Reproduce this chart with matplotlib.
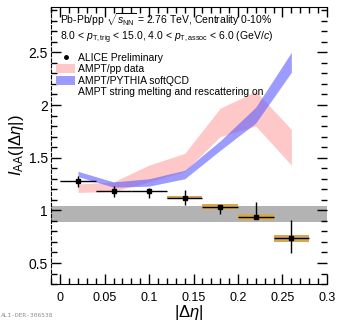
import matplotlib
matplotlib.use("Agg")
import matplotlib.pyplot as plt
from matplotlib.patches import Patch
from matplotlib.lines import Line2D
from matplotlib.ticker import MultipleLocator
import numpy as np

plt.rcParams['font.family'] = ['Liberation Sans', 'DejaVu Sans']
plt.rcParams['mathtext.fontset'] = 'custom'
plt.rcParams['mathtext.rm'] = 'Liberation Sans'
plt.rcParams['mathtext.it'] = 'Liberation Sans:italic'

# ALICE preliminary I_AA vs |delta eta|
deta = [0.02, 0.06, 0.10, 0.14, 0.18, 0.22, 0.26]
bin_half = [0.02, 0.02, 0.02, 0.02, 0.02, 0.02, 0.02]
iaa = [1.275, 1.18, 1.18, 1.12, 1.035, 0.937, 0.733]
stat_lo = [0.05, 0.05, 0.06, 0.07, 0.07, 0.02, 0.14]
stat_hi = [0.05, 0.05, 0.03, 0.07, 0.02, 0.14, 0.18]
sys_err = [0.002, 0.004, 0.006, 0.016, 0.025, 0.025, 0.032]

# AMPT with pp data as reference
ampt_pp_lo = [1.17, 1.18, 1.27, 1.37, 1.70, 1.80, 1.43]
ampt_pp_hi = [1.25, 1.27, 1.43, 1.54, 1.97, 2.13, 1.77]

# AMPT with PYTHIA softQCD as reference
ampt_py_lo = [1.32, 1.22, 1.23, 1.30, 1.57, 1.83, 2.31]
ampt_py_hi = [1.37, 1.27, 1.30, 1.38, 1.66, 1.98, 2.50]

# normalisation uncertainty band around unity
norm_band = [0.89, 1.04]

fig = plt.figure(figsize=(3.37, 3.21), dpi=100)
ax = fig.add_axes([0.151, 0.115, 0.819, 0.863])

ax.axhspan(norm_band[0], norm_band[1], color='#b3b3b3', lw=0, zorder=1)

ax.fill_between(deta, ampt_pp_lo, ampt_pp_hi, color='#ffc8c8', lw=0, zorder=2)
ax.fill_between(deta, ampt_py_lo, ampt_py_hi, color='#5a5aff', alpha=0.6, lw=0, zorder=3)

y = np.array(iaa)
s = np.array(sys_err)
ax.bar(deta, 2 * s, bottom=y - s, width=0.04, color='#d4a752', lw=0, zorder=4)
ax.errorbar(deta, iaa, xerr=bin_half, yerr=[stat_lo, stat_hi], fmt='s', ms=3,
            color='black', lw=1, capsize=0, zorder=5)

ax.set_xlim(-0.0105, 0.3)
ax.set_ylim(0.3, 2.93)
ax.xaxis.set_major_locator(MultipleLocator(0.05))
ax.xaxis.set_minor_locator(MultipleLocator(0.01))
ax.yaxis.set_major_locator(MultipleLocator(0.5))
ax.yaxis.set_minor_locator(MultipleLocator(0.1))
ax.set_xticks([0, 0.05, 0.1, 0.15, 0.2, 0.25, 0.3])
ax.set_xticklabels(['0', '0.05', '0.1', '0.15', '0.2', '0.25', '0.3'])
ax.set_yticks([0.5, 1, 1.5, 2, 2.5])
ax.set_yticklabels(['0.5', '1', '1.5', '2', '2.5'])
ax.tick_params(which='both', direction='in', top=True, right=True)
ax.tick_params(which='major', length=7, width=1)
ax.tick_params(which='minor', length=4, width=1)
ax.tick_params(axis='y', labelsize=10, pad=2)
ax.tick_params(axis='x', labelsize=9, pad=6)
ax.spines['right'].set_visible(False)
ax.spines['left'].set_linestyle((0, (3, 2)))

ax.set_xlabel(r'$|\Delta\eta|$', fontsize=12, labelpad=-1)
ax.set_ylabel(r'$I_{\rm AA}(|\Delta\eta|)$', fontsize=12, labelpad=2)

ax.text(0.033, 0.953, r'Pb-Pb/pp $\sqrt{s_{\rm NN}}$ = 2.76 TeV, Centrality 0-10%',
        transform=ax.transAxes, fontsize=7.5, va='center', ha='left')
ax.text(0.033, 0.89, r'8.0 < $p_{\rm T,trig}$ < 15.0, 4.0 < $p_{\rm T,assoc}$ < 6.0 (GeV/$c$)',
        transform=ax.transAxes, fontsize=7.5, va='center', ha='left')

handles = [
    Line2D([], [], marker='o', ms=2.5, color='black', ls='none'),
    Patch(facecolor='#ffc8c8', edgecolor='none'),
    Patch(facecolor='#9b9bff', edgecolor='none'),
    Line2D([], [], ls='none'),
]
labels = ['ALICE Preliminary', 'AMPT/pp data', 'AMPT/PYTHIA softQCD',
          'AMPT string melting and rescattering on']
ax.legend(handles, labels, loc='upper left', bbox_to_anchor=(0.02, 0.835),
          frameon=False, fontsize=7.5, handlelength=1.8, handleheight=0.9,
          handletextpad=0.3, labelspacing=0.15, borderpad=0, borderaxespad=0)

fig.text(0.003, 0.012, 'ALI-DER-306538', fontsize=4.5, color='#909090',
         family='DejaVu Sans Mono')

fig.savefig('out.png', dpi=100)
